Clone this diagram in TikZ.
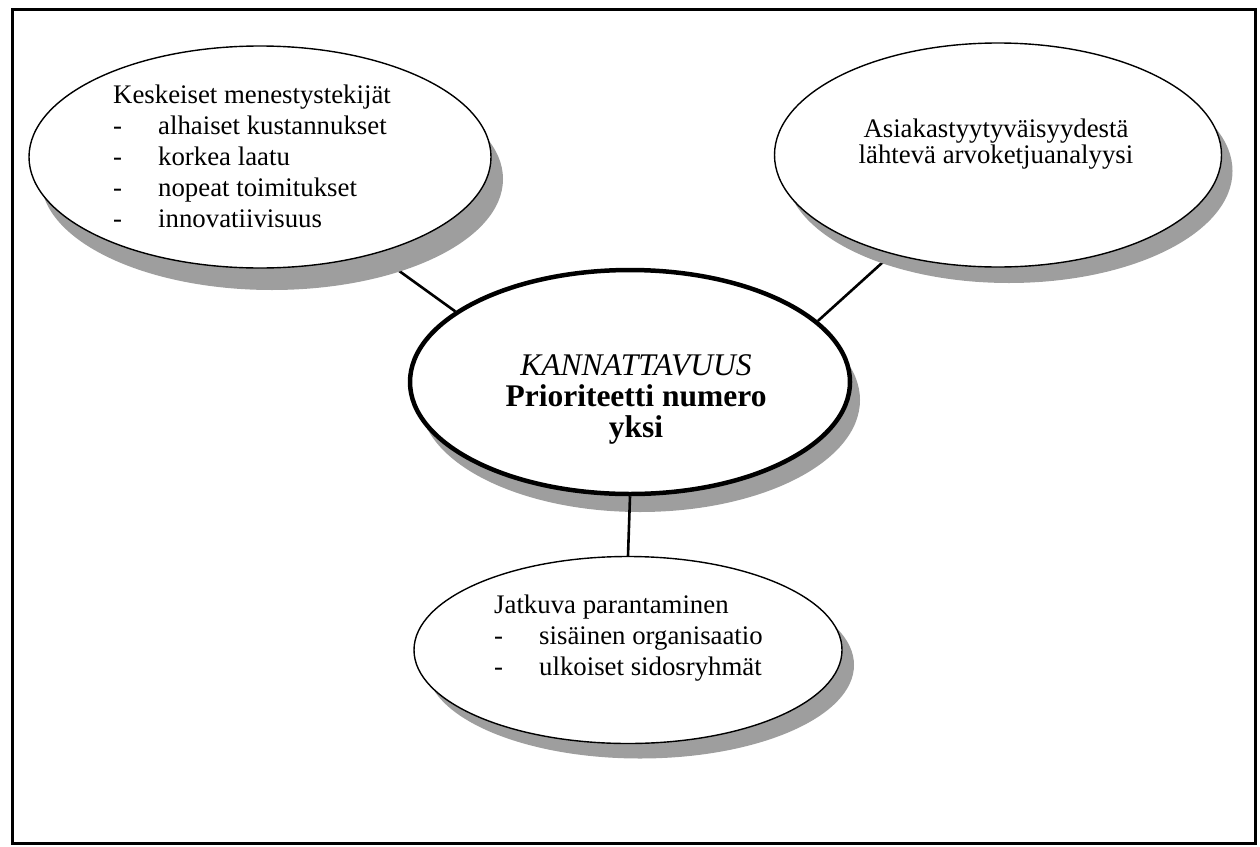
\documentclass[tikz,border=0pt]{standalone}
\usepackage{fontspec}
\setmainfont{Liberation Serif}
\usetikzlibrary{shapes.geometric,shadows,backgrounds}

% bullet line with a tab-like gap after the dash
\newcommand{\dashitem}[1]{\makebox[45pt][l]{-}#1}

\tikzset{
  bubble/.style={ellipse, draw=black, line width=1.4pt, fill=white, inner sep=0pt},
  hub/.style={bubble, line width=4.5pt},
  shade/.style 2 args={drop shadow={shadow xshift=#1, shadow yshift=#2,
      fill=black!38, opacity=1}},
  bodytext/.style={inner sep=0pt, align=left, font=\fontsize{26.8}{31}\selectfont},
  link/.style={line width=2.6pt},
  frame/.style={line width=3pt}
}

\begin{document}
\begin{tikzpicture}[x=1pt, y=-1pt]
  \useasboundingbox (0,0) rectangle (1260,846);
  \draw[frame] (12,9) rectangle (1255,843);

  % ellipses with their drop shadows
  \node[bubble, shade={12pt}{-22pt}, minimum width=462pt, minimum height=222pt]
    (kf) at (260,157) {};
  \node[bubble, shade={11pt}{-16pt}, minimum width=447pt, minimum height=224pt]
    (ak) at (998,155) {};
  \node[hub, shade={10pt}{-18pt}, minimum width=440pt, minimum height=224pt]
    (hub) at (630,382) {};
  \node[bubble, shade={12pt}{-15pt}, minimum width=428pt, minimum height=187pt]
    (jp) at (628,650) {};

  % texts (anchored at the baseline of their last line)
  \node[bodytext, anchor=base west] (kf-text) at (113,227)
    {Keskeiset menestystekijät\\
     \dashitem{alhaiset kustannukset}\\
     \dashitem{korkea laatu}\\
     \dashitem{nopeat toimitukset}\\
     \dashitem{innovatiivisuus}};
  \node[inner sep=0pt, align=center, anchor=base,
        font=\fontsize{26.8}{23}\selectfont] (ak-text) at (996,163)
    {Asiakastyytyväisyydestä\\lähtevä arvoketjuanalyysi};
  \node[inner sep=0pt, align=center, anchor=base,
        font=\fontsize{31.5}{31}\selectfont] (hub-text) at (636,437)
    {\textit{KANNATTAVUUS}\\\textbf{Prioriteetti numero}\\\textbf{yksi}};
  \node[bodytext, anchor=base west] (jp-text) at (494,675)
    {Jatkuva parantaminen\\
     \dashitem{sisäinen organisaatio}\\
     \dashitem{ulkoiset sidosryhmät}};

  % connectors
  \begin{scope}[on background layer]
    \draw[link] (kf.-40) -- (hub.158.8);
    \draw[link] (ak.-137.2) -- (hub.18);
  \end{scope}
  \draw[link] (hub.south) -- (jp.north);
\end{tikzpicture}
\end{document}
